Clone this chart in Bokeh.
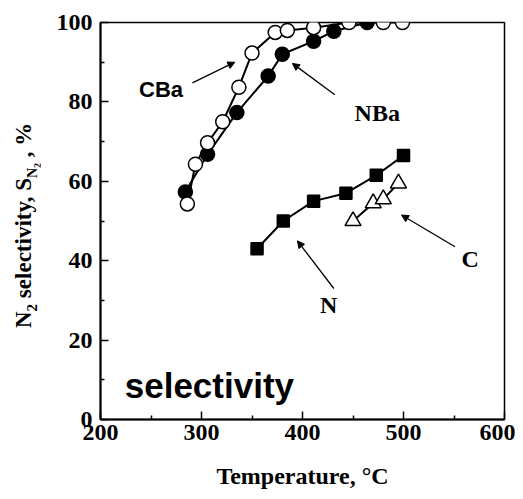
from bokeh.plotting import figure
from bokeh.layouts import row
from bokeh.models import Label, Arrow, NormalHead, Range1d, FixedTicker, Div
from bokeh.embed import file_html
from bokeh.resources import INLINE

# ---- data ----
cba_t = [286, 294, 306, 321, 337, 350, 373, 385, 411, 446, 480, 499]
cba_s = [54.3, 64.3, 69.7, 75.0, 83.7, 92.3, 97.5, 98.0, 98.7, 100, 100, 100]
nba_t = [284, 306, 335, 366, 380, 411, 431, 464]
nba_s = [57.3, 66.8, 77.3, 86.5, 92.0, 95.3, 97.8, 100]
n_t = [355, 381, 411, 443, 473, 500]
n_s = [43.0, 50.0, 55.0, 57.0, 61.5, 66.5]
c_t = [450, 470, 480, 495]
c_s = [50.0, 54.5, 55.5, 59.5]

x_ticks = [200, 300, 400, 500, 600]
y_ticks = [0, 20, 40, 60, 80, 100]

SERIF = "Liberation Serif"
SANS = "Liberation Sans"

DIV_W = 40
H = 491

p = figure(width=515 - DIV_W, height=H, output_backend="svg", toolbar_location=None,
           x_range=Range1d(200, 600), y_range=Range1d(0, 100),
           min_border_left=100 - DIV_W, min_border_right=11, min_border_top=22, min_border_bottom=69)
p.background_fill_color = "white"
p.border_fill_color = "white"
p.outline_line_color = "black"
p.outline_line_width = 1.5
p.grid.visible = False

for ax, ticks in ((p.xaxis[0], x_ticks), (p.yaxis[0], y_ticks)):
    ax.ticker = FixedTicker(ticks=ticks, minor_ticks=[(a + b) / 2 for a, b in zip(ticks[:-1], ticks[1:])])
    ax.axis_line_width = 2
    ax.axis_line_color = "black"
    ax.major_tick_in = 8
    ax.major_tick_out = 0
    ax.minor_tick_in = 4
    ax.minor_tick_out = 0
    ax.major_tick_line_width = 1.5
    ax.minor_tick_line_width = 1.5
    ax.major_label_text_font = SERIF
    ax.major_label_text_font_style = "bold"
    ax.major_label_text_font_size = "24px"
    ax.major_label_text_color = "black"

p.xaxis.major_label_standoff = 5
p.yaxis.major_label_standoff = 8
p.xaxis.axis_label = "Temperature, °C"
p.xaxis.axis_label_text_font = SERIF
p.xaxis.axis_label_text_font_style = "bold"
p.xaxis.axis_label_text_font_size = "24px"
p.xaxis.axis_label_text_color = "black"
p.xaxis.axis_label_standoff = 20

# ---- series ----
p.line(cba_t, cba_s, line_color="black", line_width=2)
p.line(nba_t, nba_s, line_color="black", line_width=2)
p.line(n_t, n_s, line_color="black", line_width=2)
p.line(c_t, c_s, line_color="black", line_width=2)
p.scatter(nba_t, nba_s, marker="circle", size=14, fill_color="black", line_color="black", line_width=1.5)
p.scatter(cba_t, cba_s, marker="circle", size=14, fill_color="white", line_color="black", line_width=1.5)
p.scatter(n_t, n_s, marker="square", size=12, fill_color="black", line_color="black", line_width=1.5)
p.scatter(c_t, c_s, marker="triangle", size=16, fill_color="white", line_color="black", line_width=1.5)

# ---- annotations ----
def arrow(x0, y0, x1, y1):
    p.add_layout(Arrow(x_start=x0, y_start=y0, x_end=x1, y_end=y1, line_width=1.3, line_color="black",
                       end=NormalHead(size=7, fill_color="black", line_color="black")))

arrow(291, 84.8, 333, 90)
arrow(432, 81.8, 390, 89.7)
arrow(431, 33, 395, 45)
arrow(551, 43.5, 498, 51.5)

def label(x, y, text, font, size, align="center", baseline="middle"):
    p.add_layout(Label(x=x, y=y, text=text, text_font=font, text_font_style="bold",
                       text_font_size=f"{size}px", text_align=align, text_baseline=baseline,
                       text_color="black"))

label(260, 83, "CBa", SANS, 22)
label(474, 77.3, "NBa", SERIF, 24)
label(426, 28.8, "N", SERIF, 24)
label(566, 40.5, "C", SERIF, 24)
label(224, 8.5, "selectivity", SANS, 35, align="left", baseline="alphabetic")

# ---- y-axis title (rotated HTML text with subscripts) ----
y_title = (f'<div style="position:relative;width:{DIV_W}px;height:{H}px;">'
           '<div style="position:absolute;left:11px;top:328px;transform:rotate(-90deg);'
           'transform-origin:left top;white-space:nowrap;font-family:\'Liberation Serif\';'
           'font-weight:bold;font-size:23px;line-height:26px;color:black;">'
           'N<sub style="font-size:15px;">2</sub> selectivity, S'
           '<sub style="font-size:14px;">N<sub style="font-size:10px;">2</sub></sub> , %'
           '</div></div>')
div = Div(text=y_title, width=DIV_W, height=H, margin=0)
p.margin = 0

layout = row(div, p, spacing=0)
open("out.html", "w").write(file_html(layout, INLINE))
